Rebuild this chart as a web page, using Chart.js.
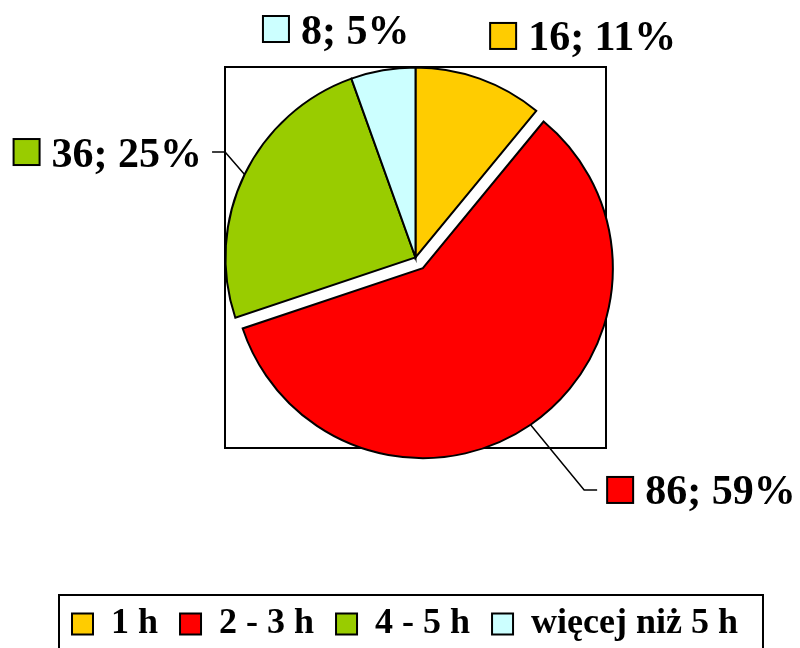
<!DOCTYPE html>
<html>
<head>
<meta charset="utf-8">
<script src="https://cdn.jsdelivr.net/npm/chart.js@4"></script>
<style>
  body { margin: 0; background: #fff; }
  #wrap { width: 800px; height: 648px; }
</style>
</head>
<body>
<div id="wrap"><canvas id="myChart" width="800" height="648"></canvas></div>
<script>
const categories = ["1 h", "2 - 3 h", "4 - 5 h", "więcej niż 5 h"];
const counts = [16, 86, 36, 8];
const sliceColors = ["#FFCC00", "#FF0000", "#99CC00", "#CCFFFF"];
const explode = [0, 13, 0, 0];

// where each data label sits, relative to the middle of its arc edge
const labelPlace = [
    { dx: 10.5, dy: -42.7, side: "left", leader: false },
    { dx: 76.6, dy: 65.2, side: "left", leader: true },
    { dx: -42.5, dy: -22.5, side: "right", leader: true },
    { dx: -120, dy: -41.3, side: "left", leader: false }
];

const FONT = '"Liberation Serif", "Times New Roman", serif';
const total = counts.reduce((a, b) => a + b, 0);

// move the exploded slice out along its middle angle, keeping its radius
const explodeSlices = {
    id: "explodeSlices",
    afterLayout(chart) {
        // legend sits a little lower than chart.js puts it
        chart.legend.top += 4;
        chart.legend.bottom += 4;
    },
    afterDatasetUpdate(chart, args) {
        args.meta.data.forEach((arc, i) => {
            const d = explode[i];
            if (!d) return;
            const mid = (arc.startAngle + arc.endAngle) / 2;
            arc.x += Math.cos(mid) * d;
            arc.y += Math.sin(mid) * d;
        });
    }
};

// square frame round the pie (plot area)
const plotFrame = {
    id: "plotFrame",
    beforeDatasetsDraw(chart) {
        const arc = chart.getDatasetMeta(0).data[0];
        const r = arc.outerRadius + 0.5;
        const ctx = chart.ctx;
        ctx.save();
        ctx.strokeStyle = "#000";
        ctx.lineWidth = 2;
        ctx.strokeRect(arc.x - r, arc.y - r, 2 * r, 2 * r);
        ctx.restore();
    }
};

const sliceLabels = {
    id: "sliceLabels",
    afterDatasetsDraw(chart) {
        const ctx = chart.ctx;
        const meta = chart.getDatasetMeta(0);
        ctx.save();
        ctx.font = "bold 42px " + FONT;
        meta.data.forEach((arc, i) => {
            const mid = (arc.startAngle + arc.endAngle) / 2;
            const ax = arc.x + Math.cos(mid) * arc.outerRadius;
            const ay = arc.y + Math.sin(mid) * arc.outerRadius;
            const p = labelPlace[i];
            const gx = ax + p.dx;
            const cy = ay + p.dy;
            const text = counts[i] + "; " + Math.round(counts[i] / total * 100) + "%";
            const tw = ctx.measureText(text).width;
            const sq = 26, gap = 12;
            let sqX, txX, leaderDir;
            if (p.side === "left") {
                sqX = gx; txX = gx + sq + gap; leaderDir = -1;
            } else {
                txX = gx - tw; sqX = txX - gap - sq; leaderDir = 1;
            }
            if (p.leader) {
                ctx.strokeStyle = "#000";
                ctx.lineWidth = 1.5;
                ctx.beginPath();
                ctx.moveTo(ax, ay);
                ctx.lineTo(gx + leaderDir * 23, cy);
                ctx.lineTo(gx + leaderDir * 10, cy);
                ctx.stroke();
            }
            ctx.fillStyle = sliceColors[i];
            ctx.fillRect(sqX, cy - sq / 2, sq, sq);
            ctx.strokeStyle = "#000";
            ctx.lineWidth = 2;
            ctx.strokeRect(sqX, cy - sq / 2, sq, sq);
            ctx.fillStyle = "#000";
            ctx.textAlign = "left";
            ctx.textBaseline = "alphabetic";
            ctx.fillText(text, txX, cy + 14.5);
        });
        ctx.restore();
    }
};

// frame round the legend, running off the bottom edge
const legendFrame = {
    id: "legendFrame",
    afterDraw(chart) {
        const lg = chart.legend;
        const boxes = lg.legendHitBoxes;
        if (!boxes || !boxes.length) return;
        const first = boxes[0], last = boxes[boxes.length - 1];
        const left = first.left - 13;
        const right = last.left + last.width + 25;
        const top = lg.bottom - 10 - 18 - 29;
        const ctx = chart.ctx;
        ctx.save();
        ctx.strokeStyle = "#000";
        ctx.lineWidth = 2;
        ctx.strokeRect(left, top, right - left, chart.height - top + 10);
        ctx.restore();
    }
};

new Chart("myChart", {
    type: "pie",
    data: {
        labels: categories,
        datasets: [{
            data: counts,
            backgroundColor: sliceColors,
            borderColor: "#000",
            borderWidth: 2,
            borderJoinStyle: "miter",
            radius: 190
        }]
    },
    options: {
        responsive: false,
        animation: false,
        events: [],
        layout: { padding: { top: 0, bottom: 0, left: 50, right: 19 } },
        plugins: {
            tooltip: { enabled: false },
            legend: {
                position: "bottom",
                align: "start",
                // empty title only reserves room so the pie sits higher
                title: {
                    display: true,
                    text: "",
                    font: { size: 10, lineHeight: 1 },
                    padding: { top: 55, bottom: 0 }
                },
                labels: {
                    boxWidth: 21,
                    boxHeight: 21,
                    padding: 22,
                    color: "#000",
                    font: { family: FONT, size: 36, weight: "bold" }
                }
            }
        }
    },
    plugins: [explodeSlices, plotFrame, sliceLabels, legendFrame]
});
</script>
</body>
</html>
